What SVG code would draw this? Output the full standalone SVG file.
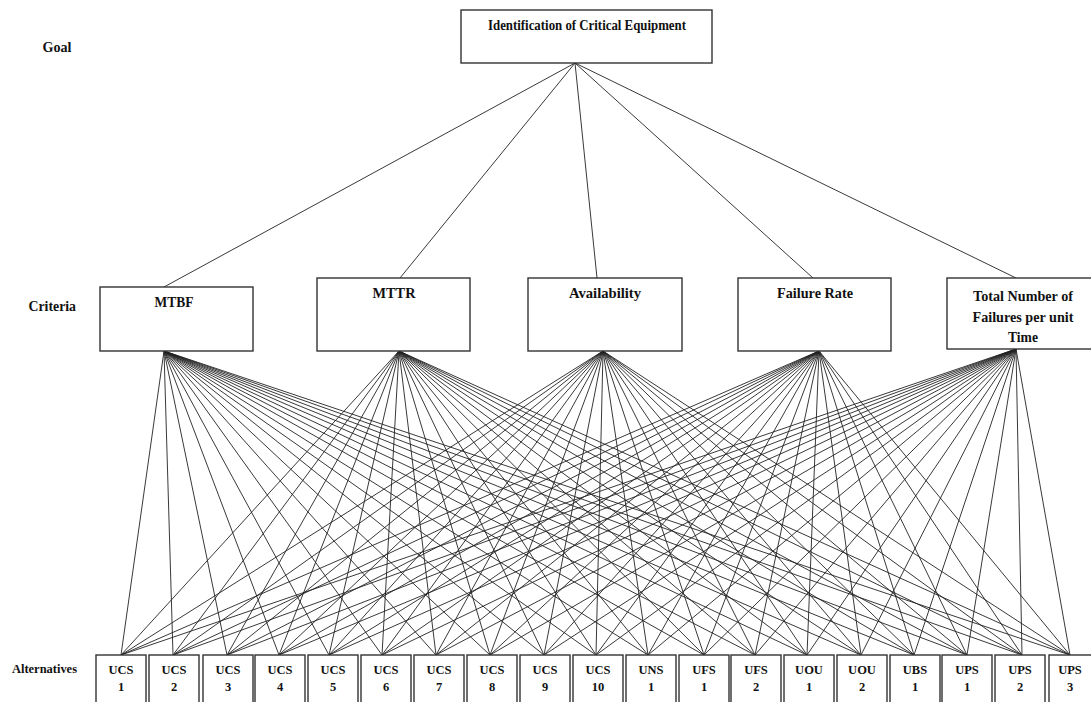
<svg xmlns="http://www.w3.org/2000/svg" width="1091" height="702" viewBox="0 0 1091 702">
<style>
.box{fill:#fff;stroke:#333;stroke-width:1.4}
.t{font-family:"Liberation Serif","Times New Roman",serif;font-weight:bold;fill:#111;text-anchor:middle}
.lbl{font-family:"Liberation Serif","Times New Roman",serif;font-weight:bold;fill:#111}
.c line{stroke:#222;stroke-width:0.9}
.a{font-size:12.5px}
</style>
<rect width="1091" height="702" fill="#fff"/>
<g id="levels">
<text class="lbl" x="42.5" y="52" font-size="14" textLength="29" lengthAdjust="spacingAndGlyphs">Goal</text>
<text class="lbl" x="28.5" y="311" font-size="14" textLength="47.5" lengthAdjust="spacingAndGlyphs">Criteria</text>
<text class="lbl" x="12" y="673" font-size="13" textLength="65" lengthAdjust="spacingAndGlyphs">Alternatives</text>
</g>
<g class="c" id="connectors">
<line x1="575" y1="63" x2="164" y2="287"/>
<line x1="575" y1="63" x2="400" y2="278"/>
<line x1="575" y1="63" x2="597" y2="278"/>
<line x1="575" y1="63" x2="813" y2="278"/>
<line x1="575" y1="63" x2="1016" y2="278"/>
<g id="from-mtbf">
<line x1="164" y1="351" x2="121" y2="655"/><line x1="164" y1="351" x2="173" y2="655"/><line x1="164" y1="351" x2="227" y2="655"/><line x1="164" y1="351" x2="279" y2="655"/><line x1="164" y1="351" x2="329" y2="655"/><line x1="164" y1="351" x2="382" y2="655"/><line x1="164" y1="351" x2="436" y2="655"/><line x1="164" y1="351" x2="490" y2="655"/><line x1="164" y1="351" x2="544" y2="655"/><line x1="164" y1="351" x2="596" y2="655"/><line x1="164" y1="351" x2="648" y2="655"/><line x1="164" y1="351" x2="704" y2="655"/><line x1="164" y1="351" x2="755" y2="655"/><line x1="164" y1="351" x2="807" y2="655"/><line x1="164" y1="351" x2="861" y2="655"/><line x1="164" y1="351" x2="914" y2="655"/><line x1="164" y1="351" x2="967" y2="655"/><line x1="164" y1="351" x2="1022" y2="655"/><line x1="164" y1="351" x2="1070" y2="655"/>
</g>
<g id="from-mttr">
<line x1="399" y1="351" x2="121" y2="655"/><line x1="399" y1="351" x2="173" y2="655"/><line x1="399" y1="351" x2="227" y2="655"/><line x1="399" y1="351" x2="279" y2="655"/><line x1="399" y1="351" x2="329" y2="655"/><line x1="399" y1="351" x2="382" y2="655"/><line x1="399" y1="351" x2="436" y2="655"/><line x1="399" y1="351" x2="490" y2="655"/><line x1="399" y1="351" x2="544" y2="655"/><line x1="399" y1="351" x2="596" y2="655"/><line x1="399" y1="351" x2="648" y2="655"/><line x1="399" y1="351" x2="704" y2="655"/><line x1="399" y1="351" x2="755" y2="655"/><line x1="399" y1="351" x2="807" y2="655"/><line x1="399" y1="351" x2="861" y2="655"/><line x1="399" y1="351" x2="914" y2="655"/><line x1="399" y1="351" x2="967" y2="655"/><line x1="399" y1="351" x2="1022" y2="655"/><line x1="399" y1="351" x2="1070" y2="655"/>
</g>
<g id="from-availability">
<line x1="603" y1="351" x2="121" y2="655"/><line x1="603" y1="351" x2="173" y2="655"/><line x1="603" y1="351" x2="227" y2="655"/><line x1="603" y1="351" x2="279" y2="655"/><line x1="603" y1="351" x2="329" y2="655"/><line x1="603" y1="351" x2="382" y2="655"/><line x1="603" y1="351" x2="436" y2="655"/><line x1="603" y1="351" x2="490" y2="655"/><line x1="603" y1="351" x2="544" y2="655"/><line x1="603" y1="351" x2="596" y2="655"/><line x1="603" y1="351" x2="648" y2="655"/><line x1="603" y1="351" x2="704" y2="655"/><line x1="603" y1="351" x2="755" y2="655"/><line x1="603" y1="351" x2="807" y2="655"/><line x1="603" y1="351" x2="861" y2="655"/><line x1="603" y1="351" x2="914" y2="655"/><line x1="603" y1="351" x2="967" y2="655"/><line x1="603" y1="351" x2="1022" y2="655"/><line x1="603" y1="351" x2="1070" y2="655"/>
</g>
<g id="from-failure-rate">
<line x1="819" y1="351" x2="121" y2="655"/><line x1="819" y1="351" x2="173" y2="655"/><line x1="819" y1="351" x2="227" y2="655"/><line x1="819" y1="351" x2="279" y2="655"/><line x1="819" y1="351" x2="329" y2="655"/><line x1="819" y1="351" x2="382" y2="655"/><line x1="819" y1="351" x2="436" y2="655"/><line x1="819" y1="351" x2="490" y2="655"/><line x1="819" y1="351" x2="544" y2="655"/><line x1="819" y1="351" x2="596" y2="655"/><line x1="819" y1="351" x2="648" y2="655"/><line x1="819" y1="351" x2="704" y2="655"/><line x1="819" y1="351" x2="755" y2="655"/><line x1="819" y1="351" x2="807" y2="655"/><line x1="819" y1="351" x2="861" y2="655"/><line x1="819" y1="351" x2="914" y2="655"/><line x1="819" y1="351" x2="967" y2="655"/><line x1="819" y1="351" x2="1022" y2="655"/><line x1="819" y1="351" x2="1070" y2="655"/>
</g>
<g id="from-total">
<line x1="1016" y1="349" x2="121" y2="655"/><line x1="1016" y1="349" x2="173" y2="655"/><line x1="1016" y1="349" x2="227" y2="655"/><line x1="1016" y1="349" x2="279" y2="655"/><line x1="1016" y1="349" x2="329" y2="655"/><line x1="1016" y1="349" x2="382" y2="655"/><line x1="1016" y1="349" x2="436" y2="655"/><line x1="1016" y1="349" x2="490" y2="655"/><line x1="1016" y1="349" x2="544" y2="655"/><line x1="1016" y1="349" x2="596" y2="655"/><line x1="1016" y1="349" x2="648" y2="655"/><line x1="1016" y1="349" x2="704" y2="655"/><line x1="1016" y1="349" x2="755" y2="655"/><line x1="1016" y1="349" x2="807" y2="655"/><line x1="1016" y1="349" x2="861" y2="655"/><line x1="1016" y1="349" x2="914" y2="655"/><line x1="1016" y1="349" x2="967" y2="655"/><line x1="1016" y1="349" x2="1022" y2="655"/><line x1="1016" y1="349" x2="1070" y2="655"/>
</g>
</g>
<g id="goal">
<rect class="box" x="461" y="10" width="251" height="53"/>
<text class="t" x="587" y="30" font-size="14" textLength="198" lengthAdjust="spacingAndGlyphs">Identification of Critical Equipment</text>
</g>
<g id="c-mtbf">
<rect class="box" x="100" y="287" width="153" height="64"/>
<text class="t" x="174" y="307" font-size="15" textLength="39" lengthAdjust="spacingAndGlyphs">MTBF</text>
</g>
<g id="c-mttr">
<rect class="box" x="317" y="278" width="153" height="73"/>
<text class="t" x="394" y="298" font-size="15" textLength="43" lengthAdjust="spacingAndGlyphs">MTTR</text>
</g>
<g id="c-availability">
<rect class="box" x="528" y="278" width="154" height="73"/>
<text class="t" x="605" y="298" font-size="15" textLength="72" lengthAdjust="spacingAndGlyphs">Availability</text>
</g>
<g id="c-failure-rate">
<rect class="box" x="738" y="278" width="153" height="73"/>
<text class="t" x="815" y="298" font-size="15" textLength="76" lengthAdjust="spacingAndGlyphs">Failure Rate</text>
</g>
<g id="c-total">
<rect class="box" x="947" y="278" width="160" height="71"/>
<text class="t" x="1023" y="301" font-size="15" textLength="100" lengthAdjust="spacingAndGlyphs">Total Number of</text>
<text class="t" x="1023" y="322" font-size="15" textLength="101" lengthAdjust="spacingAndGlyphs">Failures per unit</text>
<text class="t" x="1023" y="342" font-size="15" textLength="30" lengthAdjust="spacingAndGlyphs">Time</text>
</g>
<g id="alt-ucs1"><rect class="box" x="96" y="655" width="50" height="60"/><text class="t a" x="121" y="674">UCS</text><text class="t a" x="121" y="691">1</text></g>
<g id="alt-ucs2"><rect class="box" x="149" y="655" width="50" height="60"/><text class="t a" x="174" y="674">UCS</text><text class="t a" x="174" y="691">2</text></g>
<g id="alt-ucs3"><rect class="box" x="203" y="655" width="50" height="60"/><text class="t a" x="228" y="674">UCS</text><text class="t a" x="228" y="691">3</text></g>
<g id="alt-ucs4"><rect class="box" x="255" y="655" width="50" height="60"/><text class="t a" x="280" y="674">UCS</text><text class="t a" x="280" y="691">4</text></g>
<g id="alt-ucs5"><rect class="box" x="308" y="655" width="50" height="60"/><text class="t a" x="333" y="674">UCS</text><text class="t a" x="333" y="691">5</text></g>
<g id="alt-ucs6"><rect class="box" x="361" y="655" width="50" height="60"/><text class="t a" x="386" y="674">UCS</text><text class="t a" x="386" y="691">6</text></g>
<g id="alt-ucs7"><rect class="box" x="414" y="655" width="50" height="60"/><text class="t a" x="439" y="674">UCS</text><text class="t a" x="439" y="691">7</text></g>
<g id="alt-ucs8"><rect class="box" x="467" y="655" width="50" height="60"/><text class="t a" x="492" y="674">UCS</text><text class="t a" x="492" y="691">8</text></g>
<g id="alt-ucs9"><rect class="box" x="520" y="655" width="50" height="60"/><text class="t a" x="545" y="674">UCS</text><text class="t a" x="545" y="691">9</text></g>
<g id="alt-ucs10"><rect class="box" x="573" y="655" width="50" height="60"/><text class="t a" x="598" y="674">UCS</text><text class="t a" x="598" y="691">10</text></g>
<g id="alt-uns1"><rect class="box" x="626" y="655" width="50" height="60"/><text class="t a" x="651" y="674">UNS</text><text class="t a" x="651" y="691">1</text></g>
<g id="alt-ufs1"><rect class="box" x="679" y="655" width="50" height="60"/><text class="t a" x="704" y="674">UFS</text><text class="t a" x="704" y="691">1</text></g>
<g id="alt-ufs2"><rect class="box" x="731" y="655" width="50" height="60"/><text class="t a" x="756" y="674">UFS</text><text class="t a" x="756" y="691">2</text></g>
<g id="alt-uou1"><rect class="box" x="784" y="655" width="50" height="60"/><text class="t a" x="809" y="674">UOU</text><text class="t a" x="809" y="691">1</text></g>
<g id="alt-uou2"><rect class="box" x="837" y="655" width="50" height="60"/><text class="t a" x="862" y="674">UOU</text><text class="t a" x="862" y="691">2</text></g>
<g id="alt-ubs1"><rect class="box" x="890" y="655" width="50" height="60"/><text class="t a" x="915" y="674">UBS</text><text class="t a" x="915" y="691">1</text></g>
<g id="alt-ups1"><rect class="box" x="942" y="655" width="50" height="60"/><text class="t a" x="967" y="674">UPS</text><text class="t a" x="967" y="691">1</text></g>
<g id="alt-ups2"><rect class="box" x="995" y="655" width="50" height="60"/><text class="t a" x="1020" y="674">UPS</text><text class="t a" x="1020" y="691">2</text></g>
<g id="alt-ups3"><rect class="box" x="1049" y="655" width="50" height="60"/><text class="t a" x="1070" y="674">UPS</text><text class="t a" x="1070" y="691">3</text></g>
</svg>
